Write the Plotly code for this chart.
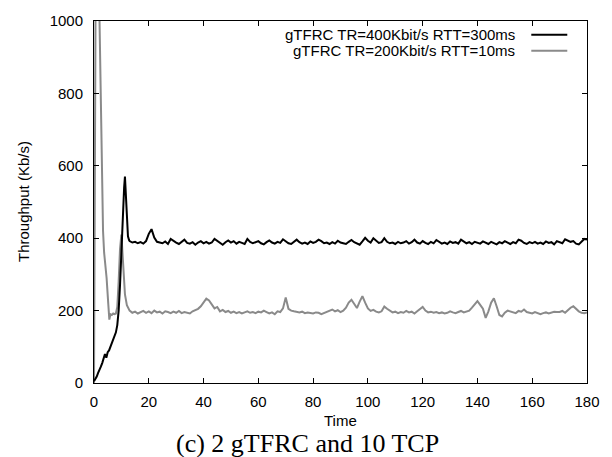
import plotly.graph_objects as go

# ---------------- data ----------------
SERIES_A_NAME = "gTFRC TR=400Kbit/s RTT=300ms"
SERIES_B_NAME = "gTFRC TR=200Kbit/s RTT=10ms"
CAPTION = "(c) 2 gTFRC and 10 TCP"
X_TITLE = "Time"
Y_TITLE = "Throughput (Kb/s)"
X_TICKS = [0, 20, 40, 60, 80, 100, 120, 140, 160, 180]
Y_TICKS = [0, 200, 400, 600, 800, 1000]

# early transient of series A (black)
a_time_early = [0, 0.5, 1, 1.5, 2, 2.5, 3, 3.5, 4, 4.5, 5, 5.5, 6, 6.5, 7, 7.5,
                8, 8.5, 9, 9.5, 10, 10.5, 11, 11.3, 11.6, 12, 12.4, 12.8]
a_vals_early = [5, 10, 18, 28, 35, 45, 55, 65, 80, 70, 85, 90, 100, 105, 115, 125,
                140, 160, 200, 270, 380, 460, 540, 570, 520, 440, 405, 395]

# early transient of series B (gray)
b_time_early = [0, 0.3, 0.6, 1.8, 2.4, 2.8, 3.3, 3.7, 4.2, 4.6, 5.2, 5.6, 6.0,
                6.5, 7, 7.5, 8, 8.5, 9, 9.5, 10.0, 10.4, 10.8, 11.3, 12, 12.5]
b_vals_early = [0, 500, 1100, 1100, 800, 600, 420, 360, 330, 290, 220, 175, 190,
                188, 192, 190, 192, 210, 280, 370, 410, 360, 290, 245, 215, 205]

# steady state, one sample per second from t = 13 to t = 180
steady_time = list(range(13, 181))
a_vals_steady = [
    392, 388, 390, 386, 389, 385, 392,
    412, 425, 402, 390, 388, 386, 391, 384, 398, 392,
    388, 384, 390, 396, 387, 385, 389, 382, 388, 392,
    386, 390, 385, 388, 398, 393, 386, 382, 389, 394,
    388, 392, 385, 390, 387, 384, 398, 390, 386, 388,
    392, 386, 383, 389, 394, 388, 385, 390, 387, 397,
    392, 386, 384, 390, 396, 389, 385, 388, 384, 391,
    387, 390, 396, 392, 386, 388, 384, 389, 385, 393,
    388, 386, 384, 390, 395, 389, 386, 382, 391, 401,
    393, 388, 400, 392, 387, 389, 400, 390, 386, 388,
    384, 390, 386, 388, 392, 385, 389, 396, 388, 385,
    392, 387, 384, 390, 386, 395, 389, 385, 388, 384,
    391, 387, 389, 385, 396, 390, 386, 389, 384, 390,
    387, 385, 391, 388, 384, 390, 386, 383, 389, 386,
    392, 387, 384, 389, 386, 396, 393, 387, 384, 389,
    386, 390, 385, 388, 384, 391, 387, 389, 383, 392,
    388, 386, 397, 394, 390, 392, 385, 383, 390, 398,
    396,
]
b_vals_steady = [
    200, 194, 197, 192, 196, 199, 194,
    198, 193, 200, 195, 197, 192, 198, 196, 193, 197,
    194, 199, 193, 196, 195, 192, 198, 201, 205, 212,
    222, 233, 228, 215, 206, 210, 198, 202, 196, 199,
    194, 197, 193, 196, 192, 195, 198, 194, 196, 193,
    197, 195, 200, 196, 192, 195, 190, 198, 196, 206,
    236, 205, 200, 198, 196, 195, 197, 193, 195, 194,
    192, 195, 194, 190, 193, 197, 200, 203, 198, 201,
    196, 200, 208, 222, 230, 219, 207, 225, 240, 222,
    206, 199, 202, 197, 195, 198, 211, 205, 199, 195,
    197, 193, 196, 194, 199, 195, 197, 192, 198, 204,
    210, 200, 195, 197, 194, 196, 193, 195, 192, 194,
    198, 195, 193, 196, 199, 195, 197, 200, 208, 218,
    226, 216, 205, 180, 198, 222, 234, 212, 188, 184,
    194, 200, 198, 196, 193, 199, 197, 203, 196, 194,
    192, 196, 194, 190, 193, 195, 192, 194, 197, 196,
    196, 199, 194, 201, 208, 212, 205, 198, 194, 193,
    195,
]

# ---------------- figure ----------------
FONT = "Liberation Sans, Arial, Helvetica, sans-serif"
SERIF = "Liberation Serif, DejaVu Serif, serif"
GRAY = "#8a8a8a"

a_x = a_time_early + steady_time
a_y = a_vals_early + a_vals_steady
b_x = b_time_early + steady_time
b_y = b_vals_early + b_vals_steady

fig = go.Figure()
fig.add_trace(go.Scatter(x=b_x, y=b_y, mode="lines", name=SERIES_B_NAME,
                         line=dict(color=GRAY, width=2)))
fig.add_trace(go.Scatter(x=a_x, y=a_y, mode="lines", name=SERIES_A_NAME,
                         line=dict(color="black", width=2)))

axis_common = dict(showline=True, linecolor="black", linewidth=1, mirror="ticks",
                   ticks="inside", ticklen=5, tickcolor="black", tickwidth=1,
                   showgrid=False, zeroline=False,
                   tickfont=dict(family=FONT, size=15, color="black"))

fig.update_xaxes(range=[0, 180], tickmode="array", tickvals=X_TICKS,
                 ticklabelstandoff=5, **axis_common)
fig.update_yaxes(range=[0, 1000], tickmode="array", tickvals=Y_TICKS,
                 ticklabelstandoff=7, **axis_common)

annotations = [
    dict(text=X_TITLE, x=0.5, y=-0.1027, xref="paper", yref="paper",
         showarrow=False, font=dict(family=FONT, size=15, color="black"),
         xanchor="center", yanchor="middle"),
    dict(text=Y_TITLE, x=-0.144, y=0.5, xref="paper", yref="paper", textangle=-90,
         showarrow=False, font=dict(family=FONT, size=15, color="black"),
         xanchor="center", yanchor="middle"),
    dict(text=CAPTION, x=0.434, y=-0.1685, xref="paper", yref="paper",
         showarrow=False, font=dict(family=SERIF, size=26, color="black"),
         xanchor="center", yanchor="middle"),
]
legend_rows = [(SERIES_A_NAME, "black", 0.962), (SERIES_B_NAME, GRAY, 0.918)]
shapes = []
for name, color, ly in legend_rows:
    annotations.append(dict(text=name, x=0.859, y=ly, xref="paper", yref="paper",
                            showarrow=False, xanchor="right", yanchor="middle",
                            font=dict(family=FONT, size=15, color="black")))
    shapes.append(dict(type="line", xref="paper", yref="paper", x0=0.887, x1=0.96,
                       y0=ly, y1=ly, line=dict(color=color, width=2)))

fig.update_layout(width=612, height=457, showlegend=False,
                  margin=dict(l=94, r=15, t=18, b=74),
                  plot_bgcolor="white", paper_bgcolor="white",
                  annotations=annotations, shapes=shapes)

fig.write_html("out.html", config={"displayModeBar": False},
               post_script="document.body.style.margin='0';document.body.style.overflow='hidden';")
